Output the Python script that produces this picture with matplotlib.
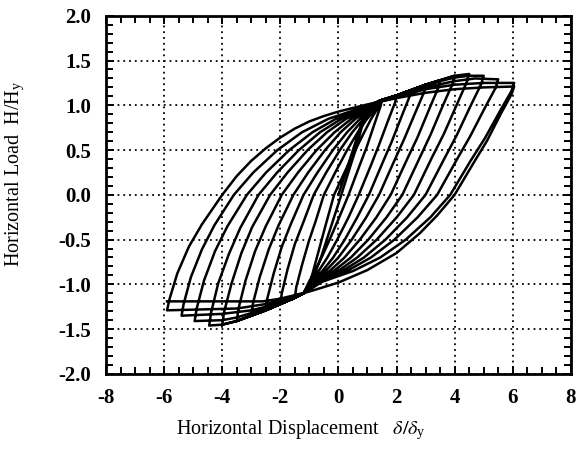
import matplotlib
matplotlib.use('Agg')
import matplotlib.pyplot as plt
from matplotlib.ticker import MultipleLocator

# peak points of every cycle (delta/delta_y, H/H_y)
pos_peak_disp = [1.0, 1.5, 2.0, 2.5, 3.0, 3.5, 4.0, 4.5, 5.0, 5.5, 6.05, 6.05]
pos_peak_load = [1.0, 1.06, 1.11, 1.17, 1.23, 1.28, 1.33, 1.35, 1.33, 1.29, 1.25, 1.21]
neg_peak_disp = [-1.0, -1.5, -2.0, -2.5, -3.0, -3.5, -4.0, -4.45, -4.95, -5.4, -5.9, -5.9]
neg_peak_load = [-1.07, -1.15, -1.22, -1.29, -1.35, -1.41, -1.45, -1.46, -1.41, -1.35, -1.29, -1.19]

# points between the peaks: rising[i] ends at positive peak i,
# falling[i] runs from positive peak i to negative peak i
rising = [
    [(0.5, 0.5)],
    [(-0.95, -0.95), (-0.7, -0.65), (-0.45, -0.35), (-0.15, 0.0), (0.21, 0.25), (0.58, 0.5), (0.89, 0.7),
     (1.13, 0.85), (1.32, 0.95)],
    [(-1.45, -1.03), (-1.25, -0.78), (-1.02, -0.52), (-0.78, -0.29), (-0.5, 0.0), (-0.11, 0.25), (0.3, 0.5),
     (0.67, 0.7), (0.99, 0.85), (1.26, 0.95), (1.5, 1.06)],
    [(-1.95, -1.1), (-1.75, -0.83), (-1.5, -0.55), (-1.2, -0.3), (-0.85, 0.0), (-0.42, 0.25), (0.05, 0.5),
     (0.48, 0.7), (0.87, 0.85), (1.21, 0.95), (1.5, 1.06), (2.0, 1.11)],
    [(-2.45, -1.16), (-2.23, -0.88), (-1.95, -0.58), (-1.63, -0.32), (-1.2, 0.0), (-0.72, 0.25), (-0.19, 0.5),
     (0.3, 0.7), (0.75, 0.85), (1.16, 0.95), (1.5, 1.06), (2.0, 1.11), (2.5, 1.17)],
    [(-2.94, -1.21), (-2.71, -0.92), (-2.4, -0.61), (-2.06, -0.34), (-1.55, 0.0), (-1.04, 0.25), (-0.46, 0.5),
     (0.08, 0.7), (0.59, 0.85), (1.06, 0.95), (1.45, 1.05), (2.0, 1.11), (2.5, 1.17), (3.0, 1.23)],
    [(-3.44, -1.27), (-3.2, -0.96), (-2.87, -0.63), (-2.5, -0.35), (-1.95, 0.0), (-1.39, 0.25), (-0.75, 0.5),
     (-0.13, 0.7), (0.45, 0.85), (1.0, 0.95), (1.45, 1.05), (2.0, 1.11), (2.5, 1.17), (3.0, 1.23), (3.5, 1.28)],
    [(-3.93, -1.3), (-3.68, -0.99), (-3.34, -0.65), (-2.97, -0.36), (-2.35, 0.0), (-1.75, 0.25), (-1.06, 0.5),
     (-0.39, 0.7), (0.27, 0.85), (0.89, 0.95), (1.4, 1.05), (2.0, 1.11), (2.5, 1.17), (3.0, 1.23), (3.5, 1.28),
     (4.0, 1.33)],
    [(-4.38, -1.31), (-4.14, -0.99), (-3.77, -0.66), (-3.38, -0.37), (-2.75, 0.0), (-2.11, 0.25), (-1.36, 0.5),
     (-0.63, 0.7), (0.11, 0.85), (0.83, 0.95), (1.4, 1.05), (2.0, 1.11), (2.5, 1.17), (3.0, 1.22), (3.5, 1.27),
     (4.0, 1.31), (4.5, 1.33)],
    [(-4.88, -1.27), (-4.63, -0.96), (-4.25, -0.63), (-3.82, -0.35), (-3.15, 0.0), (-2.49, 0.25), (-1.69, 0.5),
     (-0.89, 0.7), (-0.08, 0.85), (0.72, 0.95), (1.35, 1.04), (2.0, 1.1), (3.0, 1.2), (4.0, 1.27), (4.7, 1.3)],
    [(-5.33, -1.22), (-5.08, -0.92), (-4.7, -0.61), (-4.27, -0.34), (-3.6, 0.0), (-2.93, 0.25), (-2.1, 0.5),
     (-1.25, 0.7), (-0.34, 0.85), (0.59, 0.95), (1.3, 1.03), (2.0, 1.09), (3.0, 1.18), (4.0, 1.23), (5.0, 1.25)],
    [(-5.82, -1.17), (-5.55, -0.88), (-5.15, -0.58), (-4.7, -0.33), (-4.0, 0.0), (-3.5, 0.21), (-3.0, 0.38),
     (-2.5, 0.52), (-2.0, 0.64), (-1.5, 0.74), (-1.0, 0.82), (-0.5, 0.88), (0.0, 0.93), (0.5, 0.97), (1.0, 1.01),
     (2.0, 1.08), (3.0, 1.14), (4.0, 1.18), (5.0, 1.2)],
]

falling = [
    [(0.96, 0.93), (0.8, 0.75), (0.59, 0.5), (0.39, 0.3), (0.1, 0.0), (-0.15, -0.25), (-0.4, -0.5),
     (-0.6, -0.7), (-0.78, -0.85), (-0.92, -0.97)],
    [(1.45, 0.99), (1.25, 0.8), (0.97, 0.53), (0.72, 0.32), (0.35, 0.0), (0.03, -0.25), (-0.3, -0.5),
     (-0.58, -0.7), (-0.81, -0.85), (-1.01, -0.97), (-1.2, -1.1)],
    [(1.95, 1.03), (1.71, 0.83), (1.4, 0.56), (1.12, 0.33), (0.7, 0.0), (0.35, -0.25), (-0.04, -0.5),
     (-0.38, -0.7), (-0.68, -0.85), (-0.97, -0.97), (-1.2, -1.1), (-1.5, -1.15)],
    [(2.44, 1.09), (2.18, 0.88), (1.83, 0.59), (1.51, 0.35), (1.05, 0.0), (0.65, -0.25), (0.22, -0.5),
     (-0.18, -0.7), (-0.55, -0.85), (-0.92, -0.97), (-1.2, -1.1), (-1.5, -1.15), (-2.0, -1.22)],
    [(2.94, 1.14), (2.65, 0.92), (2.26, 0.62), (1.91, 0.37), (1.4, 0.0), (0.96, -0.25), (0.46, -0.5),
     (0.0, -0.7), (-0.44, -0.85), (-0.88, -0.97), (-1.2, -1.1), (-1.5, -1.15), (-2.0, -1.22), (-2.5, -1.29)],
    [(3.43, 1.19), (3.13, 0.96), (2.72, 0.64), (2.34, 0.38), (1.8, 0.0), (1.31, -0.25), (0.74, -0.5),
     (0.21, -0.7), (-0.3, -0.85), (-0.83, -0.97), (-1.2, -1.1), (-1.5, -1.15), (-2.0, -1.22), (-2.5, -1.29),
     (-3.0, -1.35)],
    [(3.93, 1.24), (3.6, 1.0), (3.17, 0.67), (2.78, 0.4), (2.2, 0.0), (1.66, -0.25), (1.03, -0.5),
     (0.43, -0.7), (-0.16, -0.85), (-0.77, -0.97), (-1.2, -1.1), (-1.5, -1.15), (-2.0, -1.22), (-2.5, -1.29),
     (-3.0, -1.35), (-3.5, -1.41)],
    [(4.42, 1.26), (4.08, 1.01), (3.63, 0.68), (3.21, 0.41), (2.6, 0.0), (2.01, -0.25), (1.32, -0.5),
     (0.65, -0.7), (-0.01, -0.85), (-0.72, -0.97), (-1.2, -1.1), (-1.5, -1.15), (-2.0, -1.22), (-2.5, -1.29),
     (-3.0, -1.35), (-3.5, -1.41), (-4.0, -1.45)],
    [(4.92, 1.24), (4.56, 1.0), (4.08, 0.67), (3.64, 0.4), (3.0, 0.0), (2.37, -0.25), (1.62, -0.5),
     (0.88, -0.7), (0.14, -0.85), (-0.67, -0.97), (-1.2, -1.1), (-2.0, -1.21), (-2.5, -1.27), (-3.0, -1.32),
     (-3.5, -1.37), (-4.0, -1.4)],
    [(5.42, 1.2), (5.04, 0.97), (4.53, 0.65), (4.07, 0.39), (3.4, 0.0), (2.73, -0.25), (1.93, -0.5),
     (1.12, -0.7), (0.3, -0.85), (-0.61, -0.97), (-1.2, -1.1), (-2.0, -1.2), (-2.5, -1.25), (-3.0, -1.29),
     (-4.0, -1.33)],
    [(5.96, 1.16), (5.57, 0.94), (5.04, 0.63), (4.55, 0.38), (3.85, 0.0), (3.17, -0.25), (2.32, -0.5),
     (1.44, -0.7), (0.51, -0.85), (-0.55, -0.97), (-1.2, -1.1), (-1.6, -1.14), (-2.0, -1.18), (-2.5, -1.22),
     (-3.5, -1.27)],
    [(5.97, 1.13), (5.6, 0.91), (5.11, 0.6), (4.66, 0.36), (4.0, 0.0), (3.4, -0.23), (2.8, -0.43),
     (2.0, -0.65), (1.0, -0.84), (0.0, -0.98), (-1.0, -1.08), (-2.0, -1.16), (-2.6, -1.19)],
]

# chain the whole loading history into one line
xs, ys = [0.0], [0.0]
for i in range(len(pos_peak_disp)):
    for px, py in rising[i]:
        xs.append(px)
        ys.append(py)
    xs.append(pos_peak_disp[i])
    ys.append(pos_peak_load[i])
    for px, py in falling[i]:
        xs.append(px)
        ys.append(py)
    xs.append(neg_peak_disp[i])
    ys.append(neg_peak_load[i])

plt.rcParams['font.family'] = ['Liberation Serif', 'DejaVu Serif']
plt.rcParams['mathtext.fontset'] = 'stix'
plt.rcParams['axes.unicode_minus'] = False

fig = plt.figure(figsize=(5.86, 4.51), dpi=100)
ax = fig.add_axes([0.181, 0.171, 0.793, 0.794])

ax.plot(xs, ys, color='black', linewidth=1.8, solid_joinstyle='round', zorder=3)

ax.set_xlim(-8, 8)
ax.set_ylim(-2.0, 2.0)
ax.xaxis.set_major_locator(MultipleLocator(2))
ax.xaxis.set_minor_locator(MultipleLocator(0.5))
ax.yaxis.set_major_locator(MultipleLocator(0.5))
ax.yaxis.set_minor_locator(MultipleLocator(0.1))
ax.yaxis.set_major_formatter(plt.FormatStrFormatter('%.1f'))

ax.tick_params(which='both', direction='in', top=True, right=True, width=1.4, colors='black')
ax.tick_params(which='major', length=6, labelsize=15)
ax.tick_params(which='minor', length=5)
ax.tick_params(axis='x', which='major', pad=10)
ax.tick_params(axis='y', which='major', pad=11)
for lab in ax.get_xticklabels() + ax.get_yticklabels():
    lab.set_fontweight('bold')

ax.grid(True, which='major', color='black', linestyle=(0, (1, 2.2)), linewidth=1.3)
for sp in ax.spines.values():
    sp.set_linewidth(2.0)

ax.set_xlabel(r'Horizontal Displacement   $\delta/\delta_\mathregular{y}$', fontsize=14.5)
ax.xaxis.set_label_coords(0.42, -0.125)
ax.set_ylabel(r'Horizontal Load  H/H$_\mathregular{y}$', fontsize=14.5)
ax.yaxis.set_label_coords(-0.17, 0.56)

fig.savefig('out.png', dpi=100)
